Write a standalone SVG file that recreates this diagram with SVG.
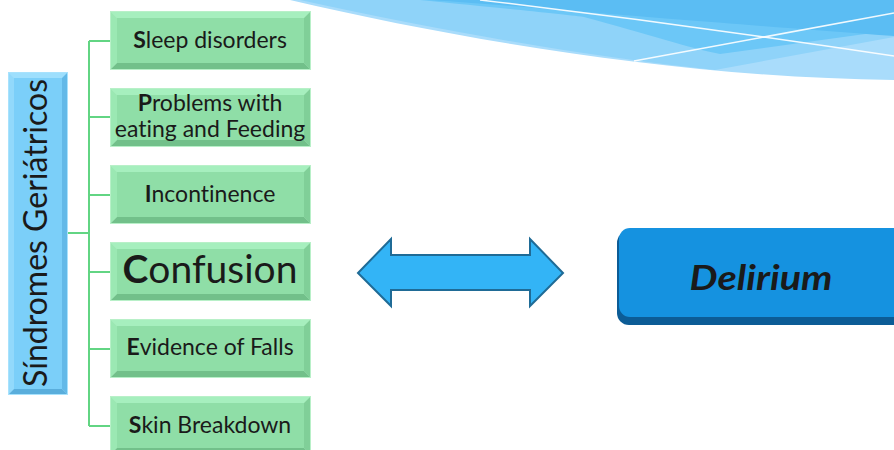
<svg xmlns="http://www.w3.org/2000/svg" xmlns:xlink="http://www.w3.org/1999/xlink" width="894" height="450" viewBox="0 0 894 450">
  <style>
    .lbl { font-family: Lato, "Open Sans", "Liberation Sans", sans-serif; fill: #1a1a1a; text-anchor: middle; font-variant-ligatures: none; }
    .sm { font-size: 23px; }
    .b { font-weight: 700; }
    .conn { stroke: #62d583; stroke-width: 2; fill: none; }
  </style>
  <defs>
    <!-- bevelled green tile, 201 x 59 -->
    <g id="tile">
      <rect x="0" y="0" width="201" height="59" fill="#b8f0c8"/>
      <polygon points="1,1 200,1 194,7 7,7" fill="#a6efbe"/>
      <polygon points="1,1 7,7 7,52 1,58" fill="#9be8b3"/>
      <polygon points="200,1 200,58 194,52 194,7" fill="#80cf98"/>
      <polygon points="1,58 7,52 194,52 200,58" fill="#72c08a"/>
      <rect x="7" y="7" width="187" height="45" fill="#8fdea7"/>
    </g>
  </defs>

  <rect width="894" height="450" fill="#ffffff"/>

  <!-- decorative swoosh, top right -->
  <g id="swoosh">
    <path d="M290,0 C470,42 690,78 894,80 L894,0 Z" fill="#a9dcfb"/>
    <path d="M300,0 C460,35 600,58 715,70 L894,37 L894,0 Z" fill="#8fd3f9"/>
    <path d="M420,0 C500,8 560,14 584,17 C650,35 690,48 720,54 L894,30 L894,0 Z" fill="#6cc7f7"/>
    <path d="M430,0 C520,6 600,14 894,36 L894,0 Z" fill="#5bbdf3"/>
    <path d="M480,0 Q690,25 894,56" stroke="#ffffff" stroke-width="1.5" fill="none" opacity="0.9"/>
    <path d="M634,61 L894,13" stroke="#ffffff" stroke-width="1.5" fill="none" opacity="0.9"/>
  </g>

  <!-- connectors -->
  <g id="connectors">
    <path class="conn" d="M68,233 H89 M89,41 V426 M89,41 H110 M89,117 H110 M89,195 H110 M89,272 H110 M89,349 H110 M89,426 H110"/>
  </g>

  <!-- root: vertical blue tile -->
  <g id="root">
    <rect x="8" y="72" width="60" height="323" fill="#a8e2fd"/>
    <polygon points="9,73 67,73 62,78 14,78" fill="#9edffd"/>
    <polygon points="9,73 14,78 14,389 9,394" fill="#92d9fb"/>
    <polygon points="67,73 67,394 62,389 62,78" fill="#63b9e8"/>
    <polygon points="9,394 14,389 62,389 67,394" fill="#5aaedc"/>
    <rect x="14" y="78" width="48" height="311" fill="#7bcff9"/>
    <text class="lbl" font-size="32" transform="translate(46.5,233) rotate(-90)">Síndromes Geriátricos</text>
  </g>

  <g id="n-sleep">
    <use xlink:href="#tile" x="110" y="11"/>
    <text class="lbl sm" x="210" y="48"><tspan class="b">S</tspan>leep disorders</text>
  </g>
  <g id="n-eating">
    <use xlink:href="#tile" x="110" y="88"/>
    <text class="lbl sm" x="210" y="111"><tspan class="b">P</tspan>roblems with</text>
    <text class="lbl sm" x="210" y="137">eating and Feeding</text>
  </g>
  <g id="n-incontinence">
    <use xlink:href="#tile" x="110" y="165"/>
    <text class="lbl sm" x="210" y="202"><tspan class="b">I</tspan>ncontinence</text>
  </g>
  <g id="n-confusion">
    <use xlink:href="#tile" x="110" y="242"/>
    <text class="lbl" x="210" y="283" font-size="39"><tspan class="b">C</tspan>onfusion</text>
  </g>
  <g id="n-falls">
    <use xlink:href="#tile" x="110" y="319"/>
    <text class="lbl sm" x="210" y="355"><tspan class="b">E</tspan>vidence of Falls</text>
  </g>
  <g id="n-skin">
    <use xlink:href="#tile" x="110" y="396"/>
    <text class="lbl sm" x="210" y="433"><tspan class="b">S</tspan>kin Breakdown</text>
  </g>

  <!-- double-headed arrow -->
  <g id="arrow">
    <polygon points="358,273 391,239 391,255 530,255 530,239 563,273 530,306 530,290 391,290 391,306" fill="#33b4f6" stroke="#1f6b96" stroke-width="2" stroke-linejoin="miter"/>
  </g>

  <!-- Delirium -->
  <g id="n-delirium">
    <rect x="617" y="231" width="300" height="94" rx="12" fill="#0c5c96"/>
    <rect x="619" y="228" width="300" height="89" rx="11" fill="#1592e0"/>
    <text class="lbl" x="761" y="290" font-size="34" font-weight="700" font-style="italic" fill="#050505" textLength="143" lengthAdjust="spacingAndGlyphs">Delirium</text>
  </g>
</svg>
